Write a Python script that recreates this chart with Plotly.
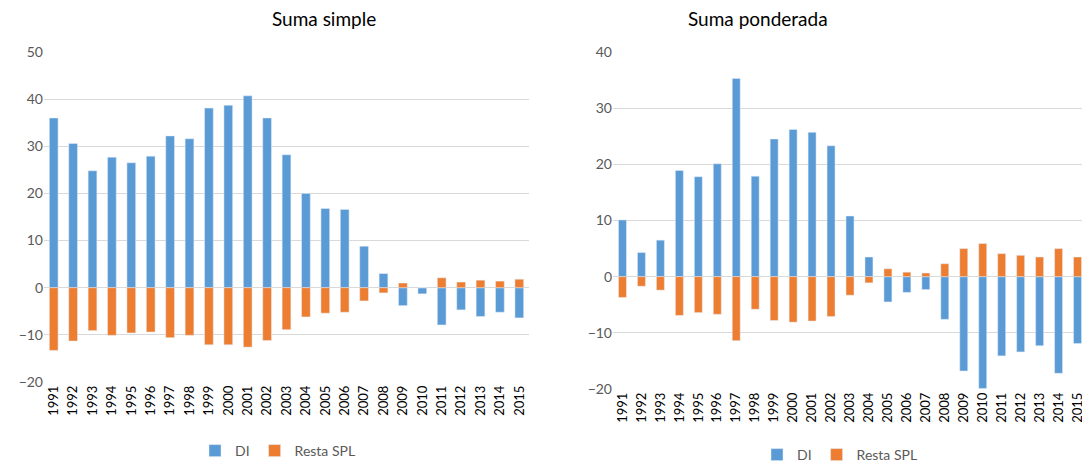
import plotly.graph_objects as go

years = [str(y) for y in range(1991, 2016)]

simple_di = [36.0, 30.6, 24.8, 27.7, 26.5, 27.9, 32.2, 31.6, 38.1, 38.7, 40.7, 36.0,
             28.2, 20.0, 16.8, 16.6, 8.8, 3.0, -3.8, -1.3, -7.9, -4.7, -6.1, -5.2, -6.4]
simple_spl = [-13.3, -11.3, -9.1, -10.1, -9.6, -9.4, -10.6, -10.1, -12.1, -12.1, -12.6, -11.2,
              -8.9, -6.2, -5.4, -5.2, -2.8, -1.1, 1.0, 0.0, 2.1, 1.2, 1.6, 1.4, 1.8]

pond_di = [10.1, 4.3, 6.5, 18.9, 17.8, 20.1, 35.3, 17.9, 24.5, 26.2, 25.7, 23.3,
           10.8, 3.5, -4.5, -2.8, -2.3, -7.6, -16.8, -19.9, -14.1, -13.4, -12.3, -17.2, -11.9]
pond_spl = [-3.7, -1.7, -2.4, -6.9, -6.4, -6.7, -11.4, -5.8, -7.8, -8.1, -7.9, -7.1,
            -3.3, -1.1, 1.4, 0.8, 0.65, 2.3, 5.0, 5.9, 4.1, 3.8, 3.5, 5.0, 3.5]

BLUE = "#5B9BD5"
ORANGE = "#ED7D31"
GRID = "#D9D9D9"
TXT = "#595959"
FONT = "Lato"

fig = go.Figure()
fig.add_trace(go.Bar(x=years, y=simple_di, name="DI", marker_color=BLUE, width=0.45,
                     xaxis="x", yaxis="y", legend="legend"))
fig.add_trace(go.Bar(x=years, y=simple_spl, name="Resta SPL", marker_color=ORANGE, width=0.45,
                     xaxis="x", yaxis="y", legend="legend"))
fig.add_trace(go.Bar(x=years, y=pond_di, name="DI", marker_color=BLUE, width=0.42,
                     xaxis="x2", yaxis="y2", legend="legend2"))
fig.add_trace(go.Bar(x=years, y=pond_spl, name="Resta SPL", marker_color=ORANGE, width=0.42,
                     xaxis="x2", yaxis="y2", legend="legend2"))

# the page adds an 8px body margin; positions below are page pixels, shifted to compensate
OFF = 8
W, H = 1090, 464
def px(x): return (x - OFF) / W
def py(y): return 1 - (y - OFF) / H

xcommon = dict(type="category", tickangle=-90, showgrid=False, zeroline=False, automargin=False,
               showline=False, ticks="", tickfont=dict(size=13, color="#000000", family=FONT))
ycommon = dict(showgrid=True, gridcolor=GRID, gridwidth=1, zeroline=True, zerolinecolor=GRID,
               zerolinewidth=1, showline=False, ticks="", dtick=10, automargin=False,
               tickfont=dict(size=14, color=TXT, family=FONT))

fig.update_layout(
    width=W, height=H,
    margin=dict(l=0, r=0, t=0, b=0),
    paper_bgcolor="white", plot_bgcolor="white",
    barmode="relative",
    font=dict(family=FONT, color=TXT),
    xaxis=dict(domain=[px(44), px(529)], anchor="y", **xcommon),
    yaxis=dict(domain=[py(382), py(52)], range=[-20, 50], anchor="x", **ycommon),
    xaxis2=dict(domain=[px(613), px(1087)], anchor="y2", **xcommon),
    yaxis2=dict(domain=[py(389), py(52)], range=[-20, 40], anchor="x2", **ycommon),
    legend=dict(orientation="h", x=px(278), y=py(451), xanchor="center", yanchor="middle",
                font=dict(size=14, color=TXT, family=FONT), itemwidth=30, traceorder="normal"),
    legend2=dict(orientation="h", x=px(840), y=py(455), xanchor="center", yanchor="middle",
                 font=dict(size=14, color=TXT, family=FONT), itemwidth=30, traceorder="normal"),
    annotations=[
        dict(text="Suma simple", x=px(270), y=py(18), xref="paper", yref="paper",
             yanchor="middle", showarrow=False, font=dict(size=19, color="#000000", family=FONT)),
        dict(text="Suma ponderada", x=px(830), y=py(18), xref="paper", yref="paper",
             yanchor="middle", showarrow=False, font=dict(size=19, color="#000000", family=FONT)),
    ],
)

fig.write_html("out.html")
